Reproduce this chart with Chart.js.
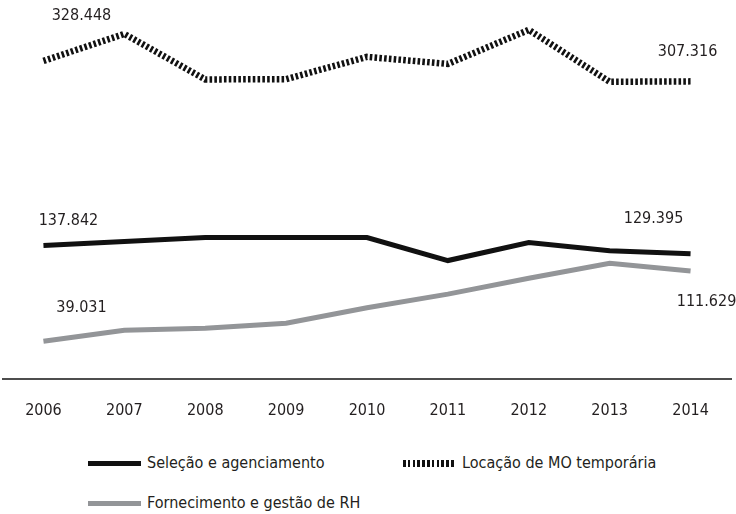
<!DOCTYPE html>
<html>
<head>
<meta charset="utf-8">
<script src="https://cdn.jsdelivr.net/npm/chart.js@4.4.1/dist/chart.umd.min.js"></script>
<style>
  body { margin: 0; background: #fff; font-family: "DejaVu Sans Condensed", "Liberation Sans Narrow", sans-serif; color: #231f20; }
  #wrap { position: relative; width: 736px; height: 514px; }
  #box { position: absolute; left: 0; top: 0; width: 736px; height: 430px; }
  .leg { position: absolute; font-size: 16px; line-height: 20px; display: flex; align-items: center; white-space: nowrap; }
  .sw { width: 53px; height: 5px; margin-right: 6px; }
</style>
</head>
<body>
<div id="wrap">
  <div id="box"><canvas id="chart-linhas"></canvas></div>
  <div id="legenda"></div>
</div>
<script>
// anos e séries (valores em unidades, rótulos em milhares com ponto)
const anos = ['2006', '2007', '2008', '2009', '2010', '2011', '2012', '2013', '2014'];
const selecao = [137842, 142000, 146100, 146200, 146000, 122300, 140900, 132500, 129395];
const locacao = [328448, 356300, 309300, 309600, 332600, 325300, 360500, 306900, 307316];
const fornecimento = [39031, 50400, 52500, 57600, 73600, 87600, 104100, 119500, 111629];
const nomes = ['Seleção e agenciamento', 'Locação de MO temporária', 'Fornecimento e gestão de RH'];

const preto = '#111111';
const cinza = '#939598';
const fonte = '"DejaVu Sans Condensed", "Liberation Sans Narrow", sans-serif';

function fmt(v) {
    return String(v).replace(/\B(?=(\d{3})+(?!\d))/g, '.');
}

// deslocamento dos rótulos do primeiro e do último ponto [dx, dy]
const rotulos = [
    { ds: 0, idx: 0, dx: 25, dy: -26 },
    { ds: 0, idx: 8, dx: -37, dy: -37 },
    { ds: 1, idx: 0, dx: 38, dy: -47 },
    { ds: 1, idx: 8, dx: -3, dy: -31 },
    { ds: 2, idx: 0, dx: 38, dy: -35 },
    { ds: 2, idx: 8, dx: 16, dy: 29 }
];

const pontaLabels = {
    id: 'pontaLabels',
    afterDatasetsDraw(chart) {
        const ctx = chart.ctx;
        ctx.save();
        ctx.font = '16px ' + fonte;
        ctx.fillStyle = '#231f20';
        ctx.textAlign = 'center';
        ctx.textBaseline = 'alphabetic';
        rotulos.forEach(r => {
            const pt = chart.getDatasetMeta(r.ds).data[r.idx];
            const v = chart.data.datasets[r.ds].data[r.idx];
            ctx.fillText(fmt(v), pt.x + r.dx, pt.y + r.dy + 6);
        });
        ctx.restore();
    }
};

const ctx = document.getElementById('chart-linhas').getContext('2d');
const chart = new Chart(ctx, {
    type: 'line',
    data: {
        labels: anos,
        datasets: [
            { label: nomes[0], data: selecao, borderColor: preto, borderWidth: 5, pointRadius: 0, tension: 0 },
            { label: nomes[1], data: locacao, borderColor: preto, borderWidth: 6.5, borderDash: [2.6, 2.2], borderCapStyle: 'butt', pointRadius: 0, tension: 0 },
            { label: nomes[2], data: fornecimento, borderColor: cinza, borderWidth: 5, pointRadius: 0, tension: 0 }
        ]
    },
    options: {
        responsive: true,
        maintainAspectRatio: false,
        animation: false,
        layout: { padding: { top: 10, left: 3, right: 5, bottom: 0 } },
        plugins: {
            legend: { display: false },
            tooltip: { enabled: false }
        },
        scales: {
            x: {
                offset: true,
                grid: { display: false, drawTicks: false },
                border: { display: true, color: '#4d4d4d', width: 2 },
                ticks: { color: '#231f20', padding: 22, font: { family: fonte, size: 16 } },
                afterFit: s => { s.height = 51; }
            },
            y: {
                display: false,
                min: 0,
                max: 381000
            }
        }
    },
    plugins: [pontaLabels]
});

// legenda em HTML
const legenda = document.getElementById('legenda');
const itens = [
    { txt: nomes[0], left: 88, top: 453, bg: preto },
    { txt: nomes[1], left: 403, top: 453, bg: 'repeating-linear-gradient(to right, #111 0 2.6px, transparent 2.6px 4.8px)', h: 7 },
    { txt: nomes[2], left: 88, top: 493, bg: cinza }
];
itens.forEach(it => {
    const d = document.createElement('div');
    d.className = 'leg';
    d.style.left = it.left + 'px';
    d.style.top = it.top + 'px';
    const sw = document.createElement('span');
    sw.className = 'sw';
    sw.style.background = it.bg;
    if (it.h) sw.style.height = it.h + 'px';
    d.appendChild(sw);
    d.appendChild(document.createTextNode(it.txt));
    legenda.appendChild(d);
});
</script>
</body>
</html>
